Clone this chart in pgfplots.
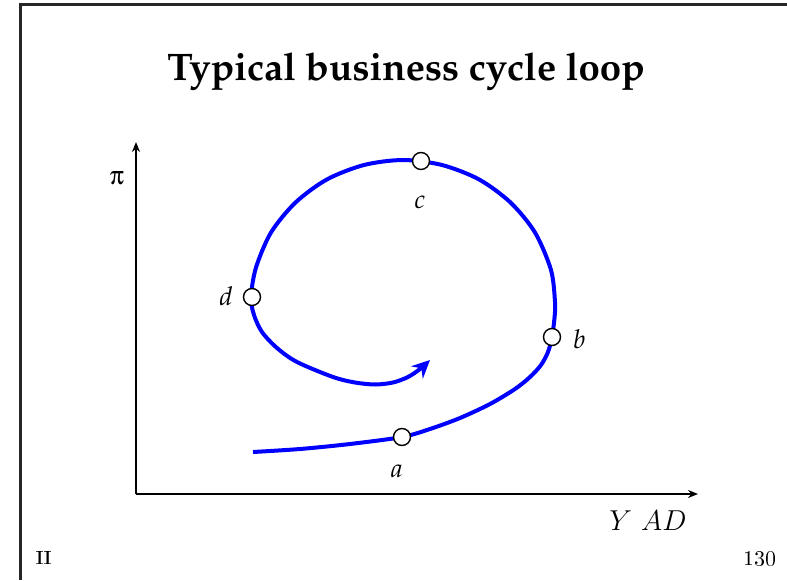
\documentclass[border=0pt]{standalone}
\usepackage[T1]{fontenc}
\usepackage[Symbol]{upgreek}
\usepackage{pgfplots}
\pgfplotsset{compat=1.18}
\usetikzlibrary{arrows.meta}
\definecolor{loopblue}{RGB}{0,0,255}
\newcommand\pal{\fontfamily{ppl}\selectfont}
\begin{document}
\begin{tikzpicture}
% page frame, in pixel-like units (0.5pt)
\begin{scope}[x=0.5pt,y=0.5pt]
\path[use as bounding box] (0,0) rectangle (787,580);
\draw[line width=1.5pt, black!85] (20,0) -- (20,575) -- (787,575);
\node[anchor=base, font=\pal\bfseries\fontsize{19.2}{23}\selectfont] at (406,500) {Typical business cycle loop};
\node[anchor=center, font=\fontsize{13}{15}\selectfont] at (117,402) {$\uppi$};
\node[anchor=base, font=\fontsize{14}{16}\selectfont] at (648,50) {$Y\ AD$};
\node[anchor=base west, inner sep=0pt, font=\bfseries\fontsize{10}{12}\selectfont] at (36,16) {II};
\node[anchor=base east, inner sep=0pt, font=\bfseries\fontsize{10.5}{12}\selectfont] at (777,15) {\textbf{130}};
\node[anchor=base, font=\pal\itshape\fontsize{13}{15}\selectfont] at (397,103) {a};
\node[anchor=base west, inner sep=0pt, font=\pal\itshape\fontsize{13}{15}\selectfont] at (573,232) {b};
\node[anchor=base, font=\pal\itshape\fontsize{13}{15}\selectfont] at (420,372) {c};
\node[anchor=base, font=\pal\itshape\fontsize{13}{15}\selectfont] at (226,275) {d};
\end{scope}
\begin{axis}[
  at={(68pt,43pt)}, anchor=south west,
  scale only axis, width=281pt, height=176pt,
  xmin=136, xmax=698, ymin=86, ymax=438,
  axis lines=left,
  axis line style={line width=1pt, -{Stealth[length=5pt,width=4pt]}},
  xtick=\empty, ytick=\empty,
  clip=false,
]
\addplot[loopblue, line width=2pt, smooth, tension=0.5, -{Stealth[length=9pt,width=8.5pt,inset=3pt]}] coordinates {
  (253,128) (300,131) (350,136) (402,143) (430,151) (460,162) (490,176)
  (515,191) (530,203) (541,215) (548,228) (552,243) (554.5,262) (555,278)
  (551,310) (535,347.5) (510.5,377.5) (479,400.6) (442,415) (403,420)
  (364,415) (327,400.6) (295.5,377.5) (271,347.5) (256,312.5) (251,283)
  (254,265) (262,248) (277,232) (297,218) (333,203) (355,197.5) (375,195.5)
  (393,197.5) (408,203) (420,211) (430,220)
};
\addplot[only marks, mark=*, mark size=4.25pt, mark options={fill=white, draw=black, line width=0.7pt}] coordinates {
  (402,143) (552,243) (421,419) (252,283)
};
\end{axis}
\end{tikzpicture}
\end{document}
